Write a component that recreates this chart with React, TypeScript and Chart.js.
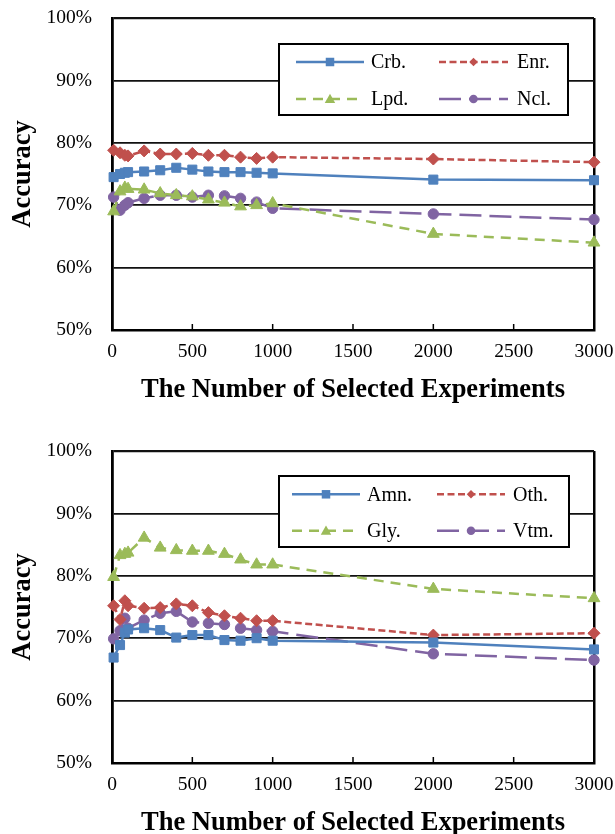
import React, { useEffect, useRef } from 'react';
import { Chart, registerables } from 'chart.js';

Chart.register(...registerables);

// ---------- data ----------
const xValues = [10, 50, 80, 100, 200, 300, 400, 500, 600, 700, 800, 900, 1000, 2000, 3000];
const xTicks = [0, 500, 1000, 1500, 2000, 2500, 3000];
const yTicks = [50, 60, 70, 80, 90, 100];

const topLabels = ['Crb.', 'Enr.', 'Lpd.', 'Ncl.'];
const crb = [74.5, 75.0, 75.2, 75.3, 75.4, 75.6, 76.0, 75.7, 75.4, 75.3, 75.3, 75.2, 75.1, 74.1, 74.0];
const enr = [78.8, 78.4, 78.0, 77.9, 78.7, 78.2, 78.2, 78.3, 78.0, 78.0, 77.7, 77.5, 77.7, 77.4, 76.9];
const lpd = [69.0, 72.2, 72.8, 72.6, 72.5, 71.9, 71.6, 71.4, 70.9, 70.4, 69.8, 70.0, 70.3, 65.4, 64.0];
const ncl = [71.3, 69.2, 70.0, 70.4, 71.1, 71.6, 71.6, 71.3, 71.6, 71.5, 71.1, 70.5, 69.5, 68.6, 67.7];

const bottomLabels = ['Amn.', 'Oth.', 'Gly.', 'Vtm.'];
const amn = [66.9, 68.9, 70.9, 71.4, 71.6, 71.3, 70.1, 70.5, 70.5, 69.7, 69.6, 70.0, 69.6, 69.3, 68.2];
const oth = [75.2, 73.0, 76.0, 75.2, 74.8, 74.9, 75.5, 75.2, 74.1, 73.6, 73.2, 72.8, 72.8, 70.5, 70.8];
const gly = [79.8, 83.3, 83.5, 83.7, 86.1, 84.5, 84.1, 84.0, 84.0, 83.5, 82.6, 81.8, 81.8, 77.9, 76.4];
const vtm = [69.9, 71.2, 73.2, 71.6, 72.9, 74.0, 74.3, 72.6, 72.4, 72.2, 71.6, 71.3, 71.1, 67.5, 66.5];

const yTitle = 'Accuracy';
const xTitle = 'The Number of Selected Experiments';

// ---------- styles ----------
const FONT = '"Liberation Serif", "Times New Roman", serif';
type Marker = 'square' | 'diamond' | 'triangle' | 'circle';
const styles: { color: string; dash: number[]; marker: Marker; pointStyle: string; radius: number }[] = [
  { color: '#4F81BD', dash: [], marker: 'square', pointStyle: 'rect', radius: 6.4 },
  { color: '#C0504D', dash: [7, 3.5], marker: 'diamond', pointStyle: 'rectRot', radius: 6 },
  { color: '#9BBB59', dash: [10, 7], marker: 'triangle', pointStyle: 'triangle', radius: 6.8 },
  { color: '#8064A2', dash: [22, 8], marker: 'circle', pointStyle: 'circle', radius: 5.2 },
];

const W = 615;
const H = 417;
const PLOT_TOP = 18;
const PLOT_BOTTOM = 330;
const PLOT_LEFT = 112;
const PLOT_RIGHT = 594;

type LegendLayout = {
  box: [number, number, number, number];
  rows: [number, number];
  cols: { l: number; r: number; m: number; t: number }[];
};

const topLegend: LegendLayout = {
  box: [279, 44, 568, 115],
  rows: [62, 99],
  cols: [
    { l: 296, r: 364, m: 330, t: 371 },
    { l: 439, r: 508, m: 473.5, t: 517 },
  ],
};
const bottomLegend: LegendLayout = {
  box: [279, 43, 569, 114],
  rows: [61.3, 97.7],
  cols: [
    { l: 292, r: 360, m: 326, t: 367 },
    { l: 437, r: 505, m: 471, t: 513 },
  ],
};

function drawMarker(ctx: CanvasRenderingContext2D, kind: Marker, x: number, y: number, s: number, color: string) {
  ctx.save();
  ctx.fillStyle = color;
  ctx.setLineDash([]);
  ctx.beginPath();
  if (kind === 'square') {
    ctx.rect(x - s / 2, y - s / 2, s, s);
  } else if (kind === 'diamond') {
    ctx.moveTo(x, y - s / 2);
    ctx.lineTo(x + s / 2, y);
    ctx.lineTo(x, y + s / 2);
    ctx.lineTo(x - s / 2, y);
    ctx.closePath();
  } else if (kind === 'triangle') {
    ctx.moveTo(x, y - s * 0.55);
    ctx.lineTo(x + s * 0.55, y + s * 0.42);
    ctx.lineTo(x - s * 0.55, y + s * 0.42);
    ctx.closePath();
  } else {
    ctx.arc(x, y, s / 2, 0, Math.PI * 2);
  }
  ctx.fill();
  ctx.restore();
}

function makeLegendPlugin(labels: string[], layout: LegendLayout) {
  return {
    id: 'customLegend',
    afterDraw(chart: Chart) {
      const ctx = chart.ctx;
      const [l, t, r, b] = layout.box;
      ctx.save();
      ctx.fillStyle = '#ffffff';
      ctx.fillRect(l, t, r - l, b - t);
      ctx.strokeStyle = '#000';
      ctx.lineWidth = 2;
      ctx.strokeRect(l, t, r - l, b - t);
      const sizes = [8.5, 8.5, 9.5, 8.5];
      labels.forEach((lab, i) => {
        const row = Math.floor(i / 2);
        const col = layout.cols[i % 2];
        const y = layout.rows[row];
        const st = styles[i];
        ctx.strokeStyle = st.color;
        ctx.lineWidth = 2.5;
        ctx.setLineDash(st.dash);
        ctx.beginPath();
        ctx.moveTo(col.l, y);
        ctx.lineTo(col.r, y);
        ctx.stroke();
        ctx.setLineDash([]);
        drawMarker(ctx, st.marker, col.m, y, sizes[i], st.color);
        ctx.fillStyle = '#000';
        ctx.font = `20px ${FONT}`;
        ctx.textAlign = 'left';
        ctx.textBaseline = 'middle';
        ctx.fillText(lab, col.t, y + 1);
      });
      ctx.restore();
    },
  };
}

const innerTicks = {
  id: 'innerTicks',
  afterDraw(chart: Chart) {
    const ctx = chart.ctx;
    const xs = chart.scales.x;
    const bottom = chart.chartArea.bottom;
    ctx.save();
    ctx.strokeStyle = '#000';
    ctx.lineWidth = 1.5;
    xs.ticks.forEach((t) => {
      if (t.value <= 0 || t.value >= 3000) return;
      const px = xs.getPixelForValue(t.value);
      ctx.beginPath();
      ctx.moveTo(px, bottom);
      ctx.lineTo(px, bottom - 6);
      ctx.stroke();
    });
    ctx.restore();
  },
};

function AccuracyChart({ labels, series, legend }: { labels: string[]; series: number[][]; legend: LegendLayout }) {
  const ref = useRef<HTMLCanvasElement>(null);
  useEffect(() => {
    if (!ref.current) return;
    const datasets = series.map((vals, i) => ({
      label: labels[i],
      data: xValues.map((x, j) => ({ x, y: vals[j] })),
      borderColor: styles[i].color,
      backgroundColor: styles[i].color,
      borderWidth: 2.5,
      borderDash: styles[i].dash,
      pointStyle: styles[i].pointStyle,
      pointRadius: styles[i].radius,
      pointBackgroundColor: styles[i].color,
      pointBorderColor: styles[i].color,
      pointBorderWidth: 1,
      tension: 0,
      clip: false as any,
    }));
    const chart = new Chart(ref.current, {
      type: 'line',
      data: { datasets },
      options: {
        animation: false,
        responsive: false,
        devicePixelRatio: 1,
        layout: { padding: { top: PLOT_TOP, right: W - PLOT_RIGHT, left: 0, bottom: 0 } },
        plugins: { legend: { display: false }, tooltip: { enabled: false } },
        scales: {
          x: {
            type: 'linear',
            min: 0,
            max: 3000,
            afterBuildTicks: (s: any) => {
              s.ticks = xTicks.map((v) => ({ value: v }));
            },
            afterFit: (s: any) => {
              s.height = H - PLOT_BOTTOM;
            },
            ticks: {
              color: '#000',
              font: { family: FONT, size: 19.5 },
              padding: 0,
              maxRotation: 0,
              autoSkip: false,
              callback: (v: any) => String(v),
            },
            grid: {
              drawTicks: true,
              tickLength: 10,
              tickColor: 'rgba(0,0,0,0)',
              color: (c: any) => (c.tick && c.tick.value === 3000 ? '#000' : 'rgba(0,0,0,0)'),
              lineWidth: 2.5,
            },
            border: { display: true, color: '#000', width: 2.5 },
            title: {
              display: true,
              text: xTitle,
              color: '#000',
              font: { family: FONT, size: 26.5, weight: 'bold', lineHeight: 1 },
              padding: { top: 0, bottom: 14 },
            },
          },
          y: {
            type: 'linear',
            min: 50,
            max: 100,
            afterBuildTicks: (s: any) => {
              s.ticks = yTicks.map((v) => ({ value: v }));
            },
            afterFit: (s: any) => {
              s.width = PLOT_LEFT;
            },
            ticks: {
              color: '#000',
              font: { family: FONT, size: 19.5 },
              padding: 0,
              callback: (v: any) => `${v}%`,
            },
            grid: {
              drawTicks: true,
              tickLength: 20,
              tickColor: 'rgba(0,0,0,0)',
              color: '#111',
              lineWidth: (c: any) => (c.tick && c.tick.value === 100 ? 2.2 : 1.7),
            },
            border: { display: true, color: '#000', width: 2.8 },
            title: {
              display: true,
              text: yTitle,
              color: '#000',
              font: { family: FONT, size: 26.5, weight: 'bold', lineHeight: 1 },
              padding: { top: 10, bottom: 0 },
            },
          },
        },
      },
      plugins: [innerTicks, makeLegendPlugin(labels, legend)],
    });
    return () => chart.destroy();
  }, []);
  return <canvas ref={ref} width={W} height={H} style={{ display: 'block', width: W, height: H }} />;
}

export default function App() {
  return (
    <div
      style={{
        position: 'absolute',
        left: 0,
        top: 0,
        width: 615,
        height: 834,
        overflow: 'hidden',
        background: '#fff',
      }}
    >
      <div style={{ position: 'absolute', left: 0, top: 0 }}>
        <AccuracyChart labels={topLabels} series={[crb, enr, lpd, ncl]} legend={topLegend} />
      </div>
      <div style={{ position: 'absolute', left: 0, top: 433 }}>
        <AccuracyChart labels={bottomLabels} series={[amn, oth, gly, vtm]} legend={bottomLegend} />
      </div>
    </div>
  );
}
